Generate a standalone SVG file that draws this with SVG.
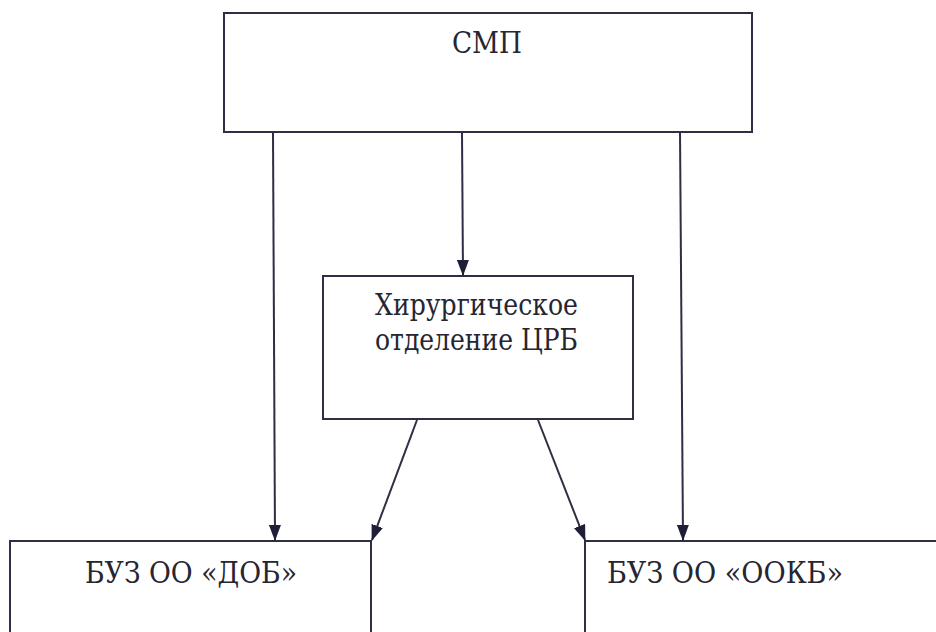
<svg xmlns="http://www.w3.org/2000/svg" width="936" height="632" viewBox="0 0 936 632">
<style>
.box{fill:#fff;stroke:#2e2e44;stroke-width:2}
.lbl{font-family:'DejaVu Serif','Liberation Serif',serif;fill:#262632;font-size:29px}
.con{stroke:#2e2e44;stroke-width:2;fill:none;marker-end:url(#ah)}
</style>
<defs>
<marker id="ah" markerUnits="userSpaceOnUse" markerWidth="16" markerHeight="12" viewBox="0 0 16 12" refX="15" refY="6" orient="auto">
<path d="M0,0 L16,6 L0,12 Z" fill="#1e1e36"/>
</marker>
</defs>
<rect width="936" height="632" fill="#fff"/>
<g id="smp">
<rect class="box" x="224" y="13" width="528" height="119"/>
<text class="lbl" x="452" y="53" textLength="70" lengthAdjust="spacingAndGlyphs">СМП</text>
</g>
<g id="surgery">
<rect class="box" x="323" y="276" width="310" height="143"/>
<text class="lbl" x="375" y="315" textLength="203" lengthAdjust="spacingAndGlyphs">Хирургическое</text>
<text class="lbl" x="375" y="350" textLength="203" lengthAdjust="spacingAndGlyphs">отделение ЦРБ</text>
</g>
<g id="dob">
<rect class="box" x="10" y="541" width="361" height="120"/>
<text class="lbl" x="85" y="583" textLength="212" lengthAdjust="spacingAndGlyphs">БУЗ ОО «ДОБ»</text>
</g>
<g id="ookb">
<rect class="box" x="585" y="541" width="380" height="120"/>
<text class="lbl" x="607" y="583" textLength="236" lengthAdjust="spacingAndGlyphs">БУЗ ОО «ООКБ»</text>
</g>
<g id="connectors">
<path class="con" d="M273,133 L275,540"/>
<path class="con" d="M462,133 L463,275"/>
<path class="con" d="M680,131 L683,540"/>
<path class="con" d="M417,420 L372,540"/>
<path class="con" d="M538,420 L585,540"/>
</g>
</svg>
